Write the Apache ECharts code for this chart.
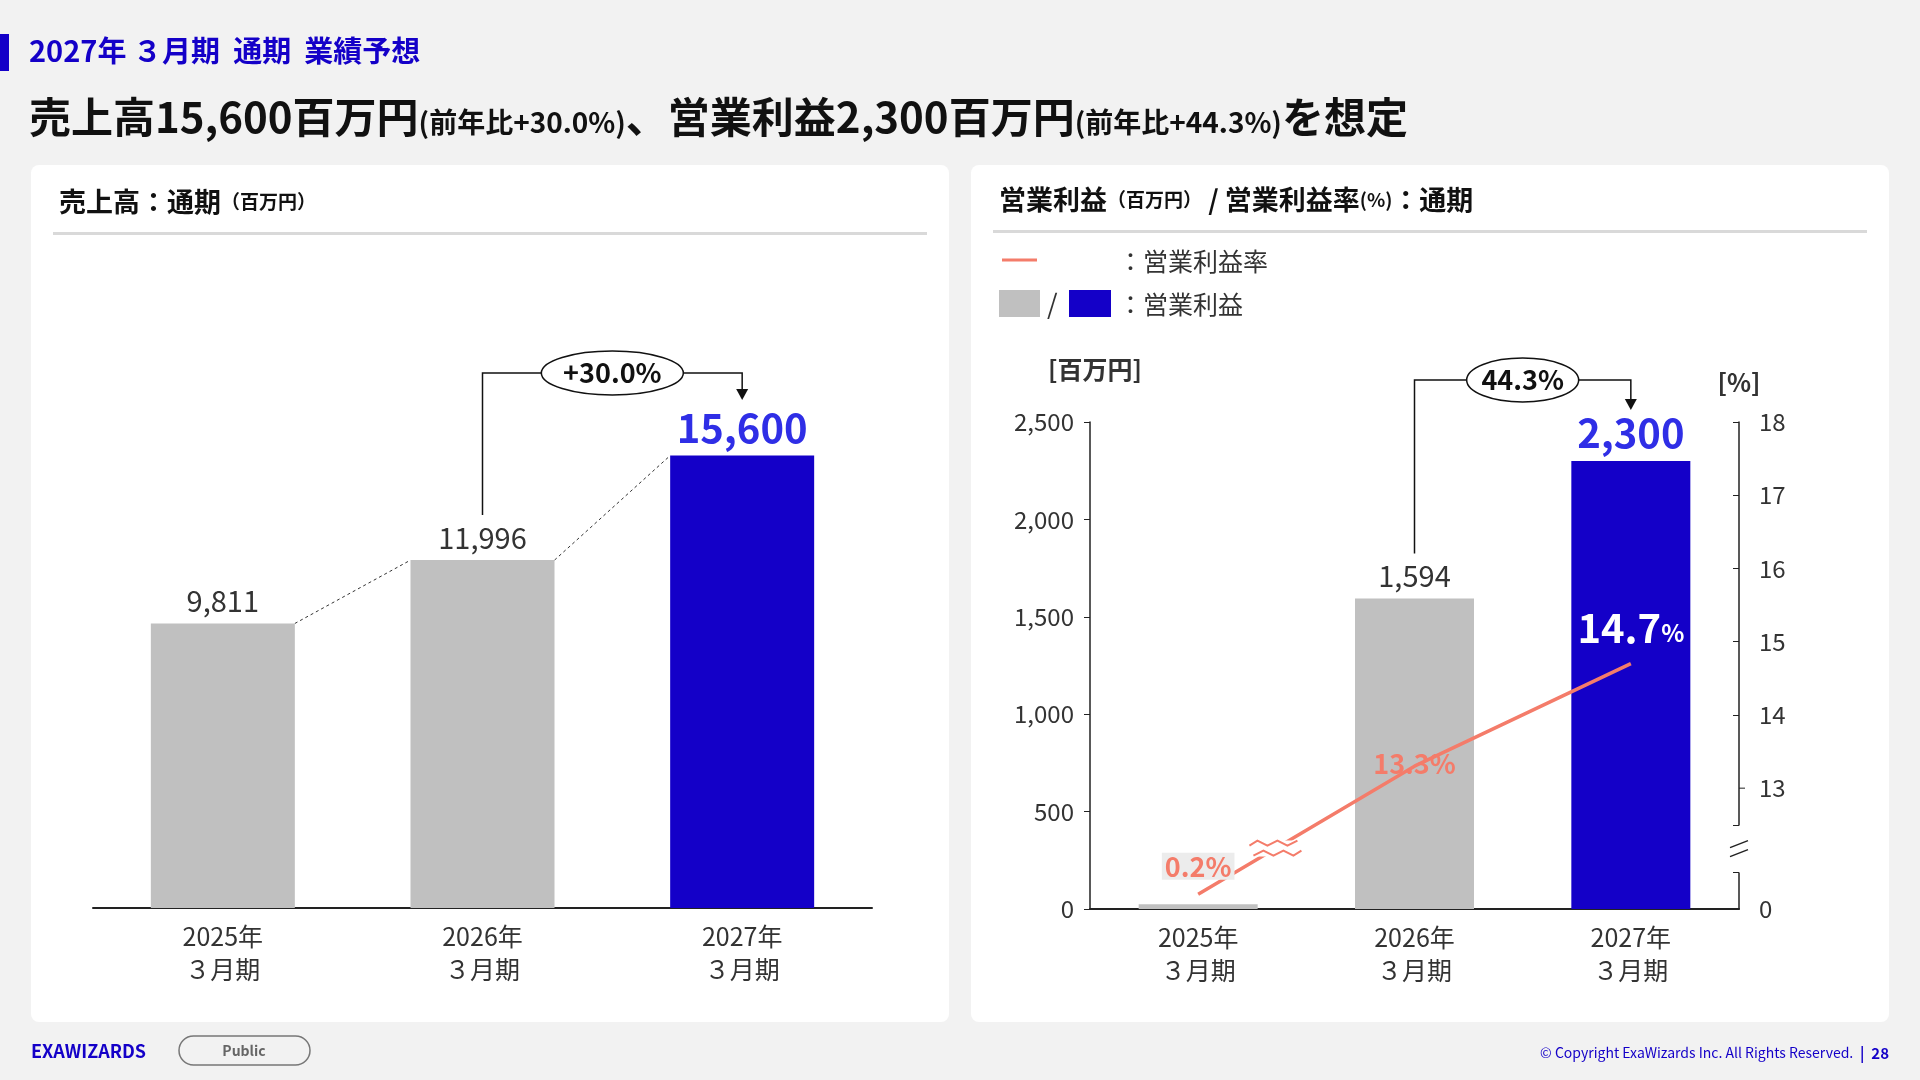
<!DOCTYPE html>
<html><head><meta charset="utf-8">
<script src="https://cdn.jsdelivr.net/npm/echarts@6/dist/echarts.min.js"></script>
<style>html,body{margin:0;padding:0;background:#f2f2f2}#c{width:1920px;height:1080px}</style>
</head><body><div id="c"></div>
<script>
const categories = ['2025年\n３月期','2026年\n３月期','2027年\n３月期'];
const salesValues = [9811, 11996, 15600];
const profitValues = [25, 1594, 2300];
const marginValues = [0.2, 13.3, 14.7];
const marginLabels = ['0.2%','13.3%','14.7'];
const salesGrowth = '+30.0%';
const profitGrowth = '44.3%';
const leftTicks = [0,500,1000,1500,2000,2500];
const rightTicks = [0,13,14,15,16,17,18];

const F = '"Noto Sans CJK JP","Noto Sans",sans-serif';
const GRAY = '#c0c0c0', BLUE = '#1400c8', SAL = '#f47c6a', TXT = '#333';
const chart = echarts.init(document.getElementById('c'));

function catLabel(){return {color:TXT,fontSize:25,fontFamily:F,lineHeight:33,margin:12};}

const option = {
  backgroundColor:'#f2f2f2',
  textStyle:{fontFamily:F},
  animation:false,
  grid:[
    {left:93,right:1048,top:328,bottom:172},
    {left:1090,right:181,top:422,bottom:171}
  ],
  xAxis:[
    {type:'category',gridIndex:0,data:categories,axisTick:{show:false},
     axisLine:{lineStyle:{color:'#222',width:2}},axisLabel:catLabel()},
    {type:'category',gridIndex:1,data:categories,axisTick:{show:false},
     axisLine:{lineStyle:{color:'#222',width:2}},axisLabel:catLabel()}
  ],
  yAxis:[
    {type:'value',gridIndex:0,min:0,max:20000,show:false},
    {type:'value',gridIndex:1,min:0,max:2500,interval:500,
     axisLine:{show:true,lineStyle:{color:'#222',width:1.5}},axisTick:{show:true,length:6,lineStyle:{color:'#222'}},
     splitLine:{show:false},
     axisLabel:{color:TXT,fontSize:24,fontFamily:F,margin:16,
       formatter:v=>v.toLocaleString('en-US')}},
    {type:'value',gridIndex:1,position:'right',min:0,max:18,interval:1,
     breaks:[{start:0.5,end:12.5,gap:0.65}],
     breakArea:{show:false},
     axisLine:{show:true,lineStyle:{color:'#222',width:1.5}},
     axisTick:{show:true,length:6,inside:true,lineStyle:{color:'#222'}},
     splitLine:{show:false},
     axisLabel:{color:TXT,fontSize:24,fontFamily:F,margin:20,
       formatter:v=>(rightTicks.includes(v)&&v>13)?String(v):''}}
  ],
  series:[
    {type:'bar',xAxisIndex:0,yAxisIndex:0,barWidth:144,
     data:salesValues.map((v,i)=>({value:v,itemStyle:{color:i===2?BLUE:GRAY},
       label:{show:true,position:'top',distance:8,
         formatter:p=>p.value.toLocaleString('en-US'),
         color:i===2?'#2f2ee6':TXT,fontSize:i===2?40:29,fontWeight:i===2?'bold':'normal',fontFamily:F}}))},
    {type:'bar',xAxisIndex:1,yAxisIndex:1,barWidth:119,
     data:profitValues.map((v,i)=>({value:v,itemStyle:{color:i===2?BLUE:GRAY},
       label:{show:i>0,position:'top',distance:8,
         formatter:p=>p.value.toLocaleString('en-US'),
         color:i===2?'#2f2ee6':TXT,fontSize:i===2?40:29,fontWeight:i===2?'bold':'normal',fontFamily:F}}))},
    {type:'line',xAxisIndex:1,yAxisIndex:2,data:marginValues,symbol:'none',
     lineStyle:{color:SAL,width:3.5},z:5,
     label:{show:false}}
  ]
};
chart.setOption(option);

const p = (g,i,v)=>chart.convertToPixel({xAxisIndex:g,yAxisIndex:g===0?0:1},[i,v]);
const pm = (i)=>chart.convertToPixel({xAxisIndex:1,yAxisIndex:2},[i,marginValues[i]]);
const G = [];
G.push({type:'rect',shape:{x:31,y:165,width:918,height:857,r:8},style:{fill:'#fff'},z:-10});
G.push({type:'rect',shape:{x:971,y:165,width:918,height:857,r:8},style:{fill:'#fff'},z:-10});
G.push({type:'rect',shape:{x:0,y:34,width:9,height:37},style:{fill:BLUE}});
G.push({type:'text',x:29,y:51,style:{text:'2027年 ３月期  通期  業績予想',fill:BLUE,font:'bold 29px '+F,textVerticalAlign:'middle'}});
G.push({type:'text',x:29,y:117,style:{
  text:'{b|売上高15,600百万円}{s|(前年比+30.0%)}{b|、営業利益2,300百万円}{s|(前年比+44.3%)}{b|を想定}',
  textVerticalAlign:'middle',rich:{b:{font:'bold 42px '+F,fill:'#111',verticalAlign:'bottom'},s:{font:'bold 28px '+F,fill:'#111',verticalAlign:'bottom',padding:[0,0,2,0]}}}});
G.push({type:'text',x:59,y:202,style:{text:'{a|売上高：通期}{b|（百万円）}',textVerticalAlign:'middle',
  rich:{a:{font:'bold 27px '+F,fill:'#111'},b:{font:'bold 19px '+F,fill:'#111'}}}});
G.push({type:'rect',shape:{x:53,y:232,width:874,height:3},style:{fill:'#d9d9d9'}});
G.push({type:'text',x:999,y:200,style:{text:'{a|営業利益}{b|（百万円）}{a| / 営業利益率}{b|(%)}{a|：通期}',textVerticalAlign:'middle',
  rich:{a:{font:'bold 27px '+F,fill:'#111'},b:{font:'bold 19px '+F,fill:'#111'}}}});
G.push({type:'rect',shape:{x:993,y:230,width:874,height:3},style:{fill:'#d9d9d9'}});
G.push({type:'line',shape:{x1:1002,y1:260,x2:1037,y2:260},style:{stroke:SAL,lineWidth:3}});
G.push({type:'text',x:1118,y:261,style:{text:'：営業利益率',fill:TXT,font:'25px '+F,textVerticalAlign:'middle'}});
G.push({type:'rect',shape:{x:999,y:290,width:41,height:27},style:{fill:GRAY}});
G.push({type:'text',x:1047,y:304,style:{text:'/',fill:TXT,font:'27px '+F,textVerticalAlign:'middle'}});
G.push({type:'rect',shape:{x:1069,y:290,width:42,height:27},style:{fill:BLUE}});
G.push({type:'text',x:1118,y:304,style:{text:'：営業利益',fill:TXT,font:'25px '+F,textVerticalAlign:'middle'}});
G.push({type:'text',x:1095,y:369,style:{text:'[百万円]',fill:TXT,font:'bold 25px '+F,textAlign:'center',textVerticalAlign:'middle'}});
G.push({type:'text',x:1739,y:382,style:{text:'[%]',fill:TXT,font:'bold 25px '+F,textAlign:'center',textVerticalAlign:'middle'}});
const bw=144;
for(let i=0;i<2;i++){
  const a=p(0,i,salesValues[i]), b=p(0,i+1,salesValues[i+1]);
  G.push({type:'line',shape:{x1:a[0]+bw/2,y1:a[1],x2:b[0]-bw/2,y2:b[1]},style:{stroke:'#333',lineWidth:1,lineDash:[3,3]}});
}
function bracket(x1,yStart,x2,yTop,yEnd,text,ew){
  G.push({type:'polyline',shape:{points:[[x1,yStart],[x1,yTop],[x2,yTop],[x2,yEnd-10]]},style:{stroke:'#111',lineWidth:1.5,fill:null}});
  G.push({type:'polygon',shape:{points:[[x2-6,yEnd-11],[x2+6,yEnd-11],[x2,yEnd]]},style:{fill:'#111'}});
  const cx=(x1+x2)/2;
  G.push({type:'ellipse',shape:{cx:cx,cy:yTop,rx:ew/2,ry:22},style:{fill:'#fff',stroke:'#111',lineWidth:1.5}});
  G.push({type:'text',x:cx,y:yTop,style:{text:text,fill:'#111',font:'bold 27px '+F,textAlign:'center',textVerticalAlign:'middle'}});
}
{
  const a=p(0,1,salesValues[1]), b=p(0,2,salesValues[2]);
  bracket(a[0],a[1]-45,b[0],373,400,salesGrowth,142);
  const c=p(1,1,profitValues[1]), d=p(1,2,profitValues[2]);
  bracket(c[0],c[1]-45,d[0],380,410,profitGrowth,112);
}
{
  const m0=pm(0), m1=pm(1), m2=pm(2);
  G.push({type:'text',x:m0[0],y:m0[1]-28,z:10,style:{text:marginLabels[0],fill:SAL,font:'bold 27px '+F,textAlign:'center',textVerticalAlign:'middle',backgroundColor:'#ececec',padding:[0,3]}});
  G.push({type:'text',x:m1[0],y:m1[1]-2,z:10,style:{text:marginLabels[1],fill:SAL,font:'bold 27px '+F,textAlign:'center',textVerticalAlign:'middle'}});
  G.push({type:'text',x:m2[0],y:m2[1]-36,z:10,style:{text:'{a|'+marginLabels[2]+'}{b|%}',textAlign:'center',textVerticalAlign:'middle',
    rich:{a:{font:'bold 40px '+F,fill:'#fff'},b:{font:'bold 24px '+F,fill:'#fff',padding:[10,0,0,0]}}}});
  // right-axis labels at break edges
  [0,13].forEach(v=>{
    const q=chart.convertToPixel({xAxisIndex:1,yAxisIndex:2},[2,v]);
    G.push({type:'text',x:1759,y:q[1],style:{text:String(v),fill:TXT,font:'24px '+F,textVerticalAlign:'middle'}});
    if(v===13) G.push({type:'line',shape:{x1:1739,y1:q[1],x2:1745,y2:q[1]},style:{stroke:'#222',lineWidth:1}});
  });
  const z0=chart.convertToPixel({xAxisIndex:1,yAxisIndex:2},[2,0.5]);
  const z1=chart.convertToPixel({xAxisIndex:1,yAxisIndex:2},[2,12.5]);
  const ym=(z0[1]+z1[1])/2, ax=1739;
  G.push({type:'rect',shape:{x:ax-8,y:ym-5,width:16,height:10},style:{fill:'#fff'},z:20});
  G.push({type:'line',shape:{x1:ax-9,y1:ym-1,x2:ax+9,y2:ym-8},style:{stroke:'#222',lineWidth:1.5},z:21});
  G.push({type:'line',shape:{x1:ax-9,y1:ym+8,x2:ax+9,y2:ym+1},style:{stroke:'#222',lineWidth:1.5},z:21});
  const t=(ym-m0[1])/(m1[1]-m0[1]);
  const lx=m0[0]+t*(m1[0]-m0[0]);
  G.push({type:'rect',shape:{x:lx-26,y:ym-8,width:52,height:16},style:{fill:'#fff'},z:20});
  G.push({type:'polyline',shape:{points:[[lx-26,ym-3],[lx-18,ym-8],[lx-8,ym-3],[lx+2,ym-8],[lx+12,ym-3],[lx+22,ym-8]]},style:{stroke:SAL,lineWidth:2,fill:null},z:21});
  G.push({type:'polyline',shape:{points:[[lx-22,ym+7],[lx-12,ym+2],[lx-2,ym+7],[lx+8,ym+2],[lx+18,ym+7],[lx+26,ym+2]]},style:{stroke:SAL,lineWidth:2,fill:null},z:21});
}
G.push({type:'text',x:31,y:1051,style:{text:'EXAWIZARDS',fill:BLUE,font:'bold 18px '+F,textVerticalAlign:'middle'}});
G.push({type:'rect',shape:{x:179,y:1036,width:131,height:29,r:15},style:{fill:'#f2f2f2',stroke:'#777',lineWidth:1.5}});
G.push({type:'text',x:244,y:1051,style:{text:'Public',fill:'#666',font:'bold 14px '+F,textAlign:'center',textVerticalAlign:'middle'}});
G.push({type:'text',x:1889,y:1053,style:{text:'{a|© Copyright ExaWizards Inc. All Rights Reserved.}{b|  |  28}',textAlign:'right',textVerticalAlign:'middle',
  rich:{a:{font:'14px '+F,fill:BLUE},b:{font:'bold 15px '+F,fill:BLUE}}}});
chart.setOption({graphic:G});
</script></body></html>
